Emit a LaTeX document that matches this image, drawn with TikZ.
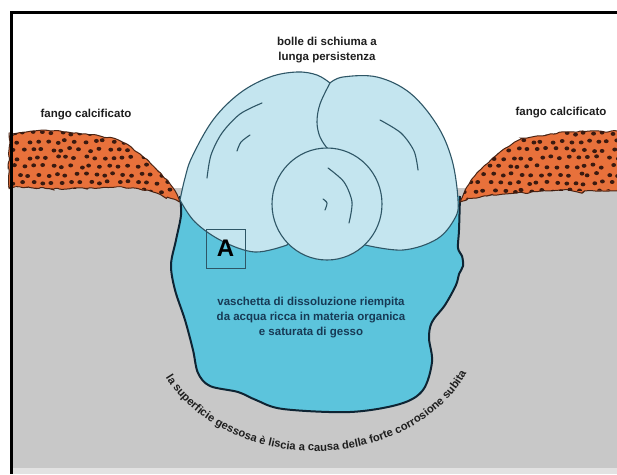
\documentclass[tikz,border=0pt]{standalone}
\usepackage{fontspec}
\setmainfont{Liberation Sans}
\usetikzlibrary{decorations.text,decorations.pathmorphing}

\definecolor{ground}{HTML}{C8C8C8}
\definecolor{strip}{HTML}{E2E2E2}
\definecolor{water}{HTML}{5CC4DC}
\definecolor{foam}{HTML}{C4E5EF}
\definecolor{foamline}{HTML}{2E5666}
\definecolor{mud}{HTML}{E8713B}
\definecolor{mudline}{HTML}{4A2414}
\definecolor{grain}{HTML}{3A1A10}
\definecolor{labelink}{HTML}{1E1E1E}
\definecolor{pooltext}{HTML}{173A55}
\definecolor{rim}{HTML}{0E2433}

\newcommand\lblfont{\bfseries\fontsize{11.5}{15}\selectfont}
\newcommand\arcfont{\bfseries\fontsize{11.2}{12}\selectfont}

% outline of the dissolution pool (open at the top, hidden by the foam)
\def\poolrim{plot[smooth, tension=0.55] coordinates {(180,-196) (181,-215) (176,-240) (171,-265) (175,-290) (185,-320) (193,-350) (198,-373) (210,-386) (238,-392) (256,-400) (283,-409) (350,-412) (400,-404) (423,-390) (432,-362) (429,-338) (432,-322) (445,-305) (456,-285) (459,-274) (463,-266) (462,-256) (458,-248) (459,-230) (460,-196)}}

% calcified mud banks
\def\leftbank{plot[smooth, tension=0.5] coordinates {(9,-134) (33,-131) (67,-132) (100,-136) (120,-141) (140,-154) (157,-170) (170,-184) (180,-202)} -- plot[smooth, tension=0.5] coordinates {(167,-197) (153,-192) (133,-188) (100,-188) (67,-189) (33,-188) (9,-188)} -- cycle}
\def\rightbank{plot[smooth, tension=0.5] coordinates {(460,-202) (467,-187) (484,-166) (500,-152) (517,-141) (537,-136) (567,-132) (594,-131) (620,-132)} -- (620,-190) -- plot[smooth, tension=0.5] coordinates {(584,-191) (550,-191) (517,-193) (484,-196) (467,-199)} -- cycle}

\begin{document}
\begin{tikzpicture}[x=1pt,y=1pt,
  foamstyle/.style={fill=foam, draw=foamline, line width=1.1pt},
  foamcurl/.style={draw=foamline, line width=1.1pt, line cap=round},
  mudstyle/.style={fill=mud, draw=mudline, line width=1pt, decorate,
    decoration={random steps, segment length=4pt, amplitude=1.2pt}, rounded corners=1.5pt},
  lbl/.style={font=\lblfont, text=labelink, align=center, inner sep=0pt},
  grainstyle/.style={fill=grain}]
\useasboundingbox (0,0) rectangle (617,-474);
\fill[white] (0,0) rectangle (617,-474);

% ground section
\fill[ground] (11,-188) rectangle (617,-468);
\fill[strip] (11,-468) rectangle (617,-474);

% pool of water
\fill[water] \poolrim -- cycle;
\draw[rim, line width=2pt] \poolrim;

% left mud bank with grains
\pgfmathsetseed{11}
\filldraw[mudstyle] \leftbank;
\begin{scope}
  \clip \leftbank;
  \pgfmathsetseed{5}
  \foreach \i in {0,...,18}{
    \foreach \j in {0,...,7}{
      \pgfmathsetmacro{\px}{14+\i*9.5+mod(\j,2)*4.75+2.3*rand}
      \pgfmathsetmacro{\py}{-133-\j*8.3+1.6*rand}
      \fill[grainstyle] (\px,\py) ellipse[x radius=2.4pt, y radius=2pt];
    }}
\end{scope}

% right mud bank with grains
\pgfmathsetseed{23}
\filldraw[mudstyle] \rightbank;
\begin{scope}
  \clip \rightbank;
  \pgfmathsetseed{9}
  \foreach \i in {0,...,17}{
    \foreach \j in {0,...,7}{
      \pgfmathsetmacro{\px}{461+\i*9.5+mod(\j,2)*4.75+2.3*rand}
      \pgfmathsetmacro{\py}{-133-\j*8.3+1.6*rand}
      \fill[grainstyle] (\px,\py) ellipse[x radius=2.4pt, y radius=2pt];
    }}
\end{scope}

% foam bubbles
\filldraw[foamstyle] plot[smooth, tension=0.6] coordinates {(180,-200) (185,-178) (192,-157) (213,-120) (240,-93) (270,-77) (297,-72) (317,-75) (330,-83)}
  -- (342,-110) -- (342,-150) -- (318,-200)
  -- plot[smooth, tension=0.6] coordinates {(287,-245) (255,-252) (222,-241) (195,-222) (180,-200)} -- cycle;
\filldraw[foamstyle] plot[smooth, tension=0.6] coordinates {(330,-83) (343,-77) (377,-77) (410,-93) (437,-125) (452,-160) (458,-200) (455,-218) (437,-239) (403,-250) (365,-245)}
  -- (335,-205)
  -- plot[smooth, tension=0.6] coordinates {(327,-148) (320,-137) (317,-122) (320,-104) (330,-83)} -- cycle;
\filldraw[foamstyle] (327,-204) ellipse[x radius=55pt, y radius=56pt];

% curls on the bubbles
\draw[foamcurl] plot[smooth] coordinates {(262,-103) (240,-114) (222,-133) (211,-155) (207,-178)};
\draw[foamcurl] plot[smooth] coordinates {(250,-135) (241,-142) (237,-151)};
\draw[foamcurl] plot[smooth] coordinates {(380,-120) (401,-133) (414,-151) (418,-170)};
\draw[foamcurl] plot[smooth] coordinates {(328,-168) (344,-182) (352,-202) (349,-223)};
\draw[foamcurl] plot[smooth] coordinates {(323,-199) (327,-203) (325,-210)};

% detail box
\node[draw=foamline, line width=1pt, minimum width=39pt, minimum height=39pt, inner sep=0pt,
      font=\bfseries\fontsize{24}{24}\selectfont, text=black] (boxA) at (225.5,-248.5) {A};

% labels
\node[lbl] (foamlabel) at (327,-50.5) {bolle di schiuma a\\lunga persistenza};
\node[lbl] (mudleft) at (86,-115) {fango calcificato};
\node[lbl] (mudright) at (561,-113) {fango calcificato};
\node[lbl, text=pooltext] (poollabel) at (311,-318) {vaschetta di dissoluzione riempita\\da acqua ricca in materia organica\\e saturata di gesso};

% curved caption under the pool
\path[decorate, decoration={text along path, text align=center, text color=labelink,
      text={|\arcfont|la superficie gessosa è liscia a causa della forte corrosione subita}}]
  (315,-320) ++(196:166pt and 131pt) arc[start angle=196, end angle=346, x radius=166pt, y radius=131pt];

% frame
\draw[line width=3pt] (617,-12) -- (11.5,-12) -- (11.5,-474);
\end{tikzpicture}
\end{document}
